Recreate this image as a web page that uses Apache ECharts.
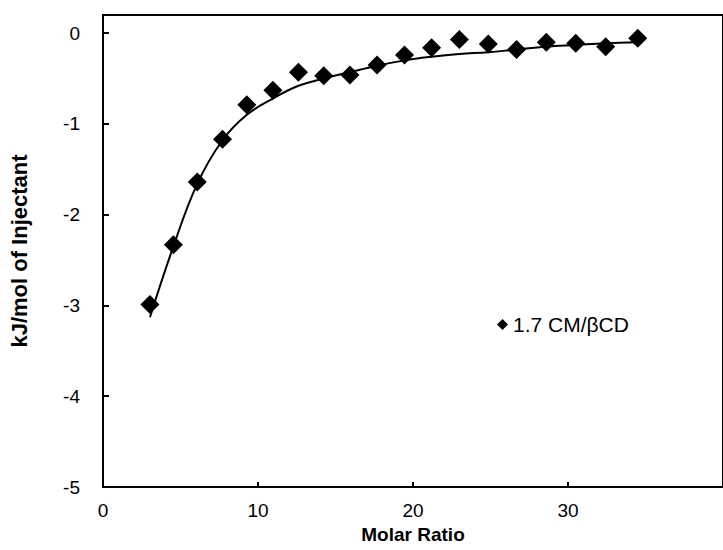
<!DOCTYPE html>
<html>
<head>
<meta charset="utf-8">
<script src="https://cdn.jsdelivr.net/npm/echarts@6/dist/echarts.min.js"></script>
<style>
  html, body { margin: 0; padding: 0; background: #fff; }
  #container { width: 723px; height: 550px; }
</style>
</head>
<body>
<div id="container"></div>
<script>
// molar ratio of each injection
const molarRatio = [3.03, 4.54, 6.08, 7.71, 9.28, 10.96, 12.61, 14.24, 15.93, 17.68,
    19.45, 21.2, 22.99, 24.86, 26.68, 28.6, 30.5, 32.43, 34.5];
// measured heat, kJ/mol of injectant
const heatData = [-2.99, -2.33, -1.64, -1.17, -0.79, -0.63, -0.43, -0.47, -0.46, -0.35,
    -0.24, -0.16, -0.07, -0.12, -0.18, -0.10, -0.11, -0.15, -0.055];
// fitted curve at the same molar ratios
const fitData = [-3.13, -2.35, -1.66, -1.18, -0.90, -0.72, -0.58, -0.50, -0.43, -0.36,
    -0.30, -0.26, -0.23, -0.21, -0.18, -0.15, -0.13, -0.11, -0.10];
const seriesName = '1.7 CM/βCD';

function drawChart() {
    const myChart = echarts.init(document.getElementById('container'), null, {
        renderer: 'svg'
    });
    const font = 'Liberation Sans, Arial, sans-serif';
    const option = {
        animation: false,
        textStyle: { fontFamily: font },
        grid: {
            left: 102,
            top: 15,
            right: -57,
            bottom: 63,
            show: true,
            borderColor: '#000',
            borderWidth: 2
        },
        legend: {
            data: [{ name: seriesName, icon: 'diamond' }],
            left: 492,
            top: 309,
            itemWidth: 11,
            itemHeight: 11,
            itemGap: 4,
            textStyle: { fontSize: 21, color: '#000', fontFamily: font }
        },
        xAxis: {
            type: 'value',
            min: 0,
            max: 40,
            interval: 10,
            name: 'Molar Ratio',
            nameLocation: 'middle',
            nameGap: 38,
            nameTextStyle: { fontSize: 19, fontWeight: 'bold', color: '#000', fontFamily: font },
            axisLine: { onZero: false, lineStyle: { color: '#000', width: 2 } },
            axisTick: { inside: true, length: 5, lineStyle: { color: '#000', width: 2 } },
            axisLabel: { fontSize: 19, color: '#000', margin: 14, showMaxLabel: false },
            splitLine: { show: false }
        },
        yAxis: {
            type: 'value',
            min: -5,
            max: 0.2,
            interval: 1,
            name: 'kJ/mol of Injectant',
            nameLocation: 'middle',
            nameGap: 73,
            nameTextStyle: { fontSize: 22, fontWeight: 'bold', color: '#000', fontFamily: font },
            axisLine: { onZero: false, lineStyle: { color: '#000', width: 2 } },
            axisTick: { inside: true, length: 6, lineStyle: { color: '#000', width: 2 } },
            axisLabel: { fontSize: 19, color: '#000', margin: 23, showMaxLabel: false },
            splitLine: { show: false }
        },
        series: [{
            name: 'fit',
            type: 'line',
            smooth: 0.4,
            showSymbol: false,
            data: molarRatio.map((x, i) => [x, fitData[i]]),
            lineStyle: { color: '#000', width: 2 },
            z: 1
        }, {
            name: seriesName,
            type: 'scatter',
            symbol: 'diamond',
            symbolSize: 19,
            data: molarRatio.map((x, i) => [x, heatData[i]]),
            itemStyle: { color: '#000', opacity: 1 },
            z: 2
        }]
    };
    myChart.setOption(option);
}

drawChart();
</script>
</body>
</html>
